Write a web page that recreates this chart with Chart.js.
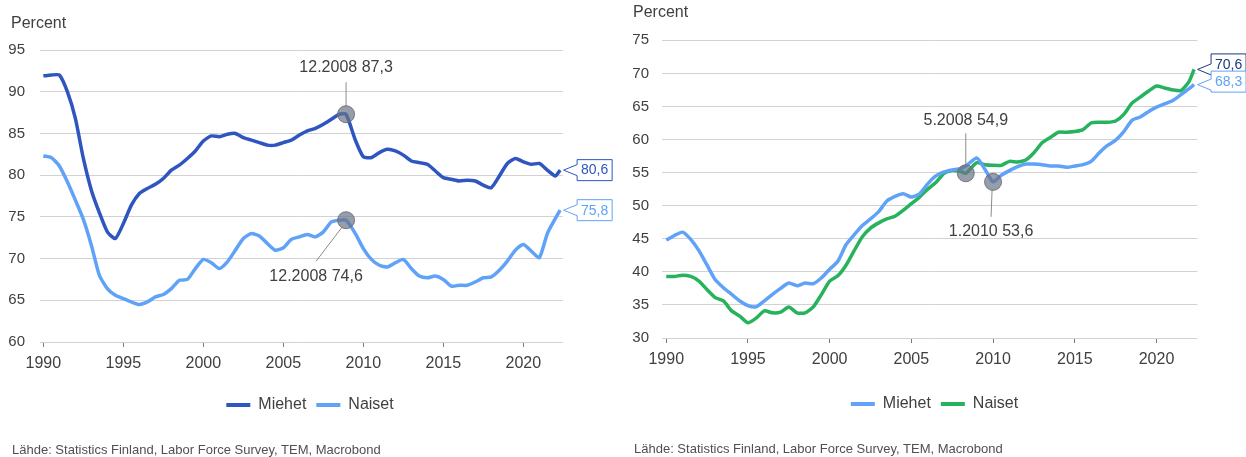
<!DOCTYPE html>
<html lang="fi">
<head>
    <meta charset="UTF-8">
    <title>Työllisyysaste: Miehet ja Naiset</title>
    <script src="https://cdn.jsdelivr.net/npm/chart.js"></script>
    <style>
        body { margin: 0; background: #fff; }
        .wrap { position: relative; width: 1246px; height: 457px; overflow: hidden;
                font-family: "Liberation Sans", Arial, sans-serif; color: #404040; }
        canvas { position: absolute; top: 0; }
        .unit { position: absolute; font-size: 16px; line-height: 16px; }
        .source { position: absolute; font-size: 13px; line-height: 13px; color: #505050; }
    </style>
</head>
<body>
<div class="wrap">
    <canvas id="vasen" width="620" height="457" style="left:0"></canvas>
    <canvas id="oikea" width="623" height="457" style="left:623px"></canvas>
    <div class="unit" style="left:11px; top:15px">Percent</div>
    <div class="unit" style="left:633px; top:4px">Percent</div>
    <div class="source" style="left:12px; top:443px">Lähde: Statistics Finland, Labor Force Survey, TEM, Macrobond</div>
    <div class="source" style="left:634px; top:442px">Lähde: Statistics Finland, Labor Force Survey, TEM, Macrobond</div>
</div>

<script>
    // Vasen kuvio
    const leftYears = [1990, 1990.5, 1991, 1991.5, 1992, 1992.5, 1993, 1993.5, 1994, 1994.5,
        1995, 1995.5, 1996, 1996.5, 1997, 1997.5, 1998, 1998.5, 1999, 1999.5,
        2000, 2000.5, 2001, 2001.5, 2002, 2002.5, 2003, 2003.5, 2004, 2004.5,
        2005, 2005.5, 2006, 2006.5, 2007, 2007.5, 2008, 2008.5, 2008.92,
        2009.5, 2010, 2010.5, 2011, 2011.5, 2012, 2012.5, 2013, 2013.5, 2014,
        2014.5, 2015, 2015.5, 2016, 2016.5, 2017, 2017.5, 2018, 2018.5, 2019,
        2019.5, 2020, 2020.5, 2021, 2021.5, 2022, 2022.3];
    const leftMiehet = [91.9, 92.0, 92.0, 90.0, 86.8, 82.0, 78.2, 75.5, 73.2, 72.4,
        74.2, 76.4, 77.8, 78.4, 78.9, 79.6, 80.6, 81.2, 82.0, 82.9,
        84.1, 84.7, 84.6, 84.9, 85.0, 84.5, 84.2, 83.9, 83.6, 83.6,
        83.9, 84.2, 84.8, 85.3, 85.6, 86.1, 86.7, 87.3, 87.3,
        84.2, 82.2, 82.1, 82.7, 83.1, 82.9, 82.4, 81.7, 81.5, 81.3,
        80.5, 79.7, 79.5, 79.3, 79.4, 79.3, 78.8, 78.5, 79.9, 81.4,
        82.0, 81.6, 81.3, 81.4, 80.6, 79.9, 80.6];
    const leftNaiset = [82.3, 82.1, 81.1, 79.2, 77.0, 74.7, 71.6, 68.0, 66.4, 65.6,
        65.2, 64.8, 64.5, 64.8, 65.4, 65.7, 66.4, 67.4, 67.5, 68.8,
        69.9, 69.5, 68.8, 69.6, 71.0, 72.4, 73.0, 72.7, 71.8, 71.0,
        71.3, 72.3, 72.6, 72.9, 72.6, 73.2, 74.4, 74.6, 74.6,
        73.0, 71.2, 69.9, 69.2, 69.0, 69.5, 69.9, 68.8, 67.9, 67.7,
        67.9, 67.5, 66.7, 66.8, 66.8, 67.2, 67.7, 67.8, 68.6, 69.7,
        71.0, 71.7, 70.9, 70.1, 73.0, 74.8, 75.8];
    const leftYTicks = [60, 65, 70, 75, 80, 85, 90, 95];
    const leftNoteDates = ['12.2008', '12.2008'];
    const leftNoteX = [2008.92, 2008.92];
    const leftNoteY = [87.3, 74.6];

    // Oikea kuvio
    const rightYears = [1990, 1990.5, 1991, 1991.5, 1992, 1992.5, 1993, 1993.5, 1994, 1994.5,
        1995, 1995.5, 1996, 1996.5, 1997, 1997.5, 1998, 1998.5, 1999, 1999.5,
        2000, 2000.5, 2001, 2001.5, 2002, 2002.5, 2003, 2003.5, 2004, 2004.5,
        2005, 2005.5, 2006, 2006.5, 2007, 2007.5, 2008, 2008.33,
        2009, 2009.5, 2010, 2010.5, 2011, 2011.5, 2012, 2012.5, 2013, 2013.5,
        2014, 2014.5, 2015, 2015.5, 2016, 2016.5, 2017, 2017.5, 2018, 2018.5,
        2019, 2019.5, 2020, 2020.5, 2021, 2021.5, 2022, 2022.3];
    const rightMiehet = [44.8, 45.5, 46.0, 44.9, 43.2, 41.0, 38.8, 37.6, 36.6, 35.6,
        34.9, 34.7, 35.6, 36.6, 37.5, 38.3, 37.9, 38.3, 38.2, 39.1,
        40.4, 41.6, 44.1, 45.6, 47.0, 48.0, 49.1, 50.7, 51.4, 51.8,
        51.3, 51.8, 53.3, 54.5, 55.1, 55.4, 55.6, 56.0,
        57.2, 55.5, 53.6, 54.6, 55.3, 55.9, 56.3, 56.3, 56.2, 56.0,
        56.0, 55.8, 56.0, 56.2, 56.7, 58.0, 59.1, 59.9, 61.2, 62.9,
        63.4, 64.2, 64.9, 65.4, 65.9, 66.8, 67.7, 68.3];
    const rightNaiset = [39.3, 39.3, 39.5, 39.3, 38.6, 37.3, 36.1, 35.6, 34.1, 33.3,
        32.3, 33.0, 34.1, 33.8, 33.9, 34.7, 33.8, 33.8, 34.7, 36.6,
        38.6, 39.4, 41.0, 43.2, 45.3, 46.6, 47.4, 48.0, 48.4, 49.3,
        50.3, 51.3, 52.5, 53.5, 54.9, 55.3, 55.2, 54.9,
        56.5, 56.2, 56.1, 56.1, 56.7, 56.6, 56.9, 58.0, 59.5, 60.3,
        61.1, 61.1, 61.2, 61.5, 62.5, 62.6, 62.6, 62.8, 63.8, 65.5,
        66.4, 67.3, 68.1, 67.8, 67.5, 67.4, 68.8, 70.6];
    const rightYTicks = [30, 35, 40, 45, 50, 55, 60, 65, 70, 75];
    const rightNoteDates = ['5.2008', '1.2010'];
    const rightNoteX = [2008.33, 2010];
    const rightNoteY = [54.9, 53.6];

    const xTicks = [1990, 1995, 2000, 2005, 2010, 2015, 2020];
    const seriesNames = ['Miehet', 'Naiset'];

    const FONT = '"Liberation Sans", Arial, sans-serif';
    const TEXT = '#404040';
    const fi = v => v.toFixed(1).replace('.', ',');

    // Merkinnät: harmaat pallot, selitetekstit ja viimeisen arvon laput
    const notesPlugin = {
        id: 'notes',
        afterLayout(chart) {
            // selite keskelle koko kuvaa, ei vain piirtoalueen kohdalle
            chart.legend.left = 0;
            chart.legend.right = chart.width;
        },
        afterDatasetsDraw(chart, args, opts) {
            const { ctx, scales: { x, y } } = chart;
            ctx.save();
            opts.notes.forEach(n => {
                const px = x.getPixelForValue(n.x);
                const py = y.getPixelForValue(n.y);
                ctx.strokeStyle = '#8c8c8c';
                ctx.lineWidth = 1;
                ctx.beginPath();
                ctx.moveTo(px + n.line[0], py + n.line[1]);
                ctx.lineTo(px + n.line[2], py + n.line[3]);
                ctx.stroke();
                ctx.beginPath();
                ctx.arc(px, py, 8.5, 0, Math.PI * 2);
                ctx.fillStyle = 'rgba(105, 115, 135, 0.7)';
                ctx.fill();
                ctx.strokeStyle = 'rgba(110, 110, 120, 0.9)';
                ctx.stroke();
                ctx.fillStyle = TEXT;
                ctx.font = '16px ' + FONT;
                ctx.textAlign = 'center';
                ctx.textBaseline = 'middle';
                ctx.fillText(n.text, px + n.dx, py + n.dy);
            });
            opts.tags.forEach(t => {
                const data = chart.data.datasets[t.dataset].data;
                const last = data[data.length - 1];
                const tipX = x.getPixelForValue(last.x) + 3.5;
                const tipY = y.getPixelForValue(last.y);
                const left = tipX + 13.5, w = 35, h = 21;
                const top = tipY + t.boxDy - h / 2;
                ctx.beginPath();
                ctx.moveTo(left, top);
                ctx.lineTo(left + w, top);
                ctx.lineTo(left + w, top + h);
                ctx.lineTo(left, top + h);
                ctx.lineTo(left, Math.min(tipY + 5.5, top + h));
                ctx.lineTo(tipX, tipY);
                ctx.lineTo(left, Math.max(tipY - 5.5, top));
                ctx.closePath();
                ctx.fillStyle = '#fff';
                ctx.fill();
                ctx.strokeStyle = t.color;
                ctx.lineWidth = 1;
                ctx.stroke();
                ctx.fillStyle = t.color;
                ctx.font = '14px ' + FONT;
                ctx.textAlign = 'center';
                ctx.textBaseline = 'middle';
                ctx.fillText(fi(last.y), left + w / 2, top + h / 2 + 0.5);
            });
            ctx.restore();
        }
    };

    function makeChart(id, cfg) {
        return new Chart(document.getElementById(id), {
            type: 'line',
            data: {
                datasets: cfg.series.map((s, i) => ({
                    label: seriesNames[i],
                    data: cfg.years.map((yr, k) => ({ x: yr, y: s[k] })),
                    borderColor: cfg.colors[i],
                    backgroundColor: cfg.colors[i],
                    borderWidth: 3.5,
                    pointRadius: 0,
                    tension: 0.2
                }))
            },
            options: {
                responsive: false,
                animation: false,
                devicePixelRatio: 1,
                events: [],
                layout: { padding: cfg.padding },
                scales: {
                    x: {
                        type: 'linear',
                        min: cfg.xMin,
                        max: cfg.xMax,
                        afterBuildTicks: s => { s.ticks = xTicks.map(v => ({ value: v })); },
                        afterFit: s => { s.height = cfg.xHeight; },
                        ticks: {
                            callback: v => String(v),
                            color: TEXT,
                            font: { family: FONT, size: 16 },
                            padding: 7,
                            maxRotation: 0,
                            autoSkip: false
                        },
                        grid: { drawOnChartArea: false, drawTicks: true, tickLength: 5, color: '#7a7a7a' },
                        border: { display: false }
                    },
                    y: {
                        min: cfg.yTicks[0],
                        max: cfg.yTicks[cfg.yTicks.length - 1],
                        afterBuildTicks: s => { s.ticks = cfg.yTicks.map(v => ({ value: v })); },
                        afterFit: s => { s.width = cfg.yWidth; },
                        ticks: {
                            color: TEXT,
                            font: { family: FONT, size: 15 },
                            padding: cfg.yPad
                        },
                        grid: { color: '#d2d2d2', drawTicks: false },
                        border: { display: false }
                    }
                },
                plugins: {
                    legend: {
                        position: 'bottom',
                        labels: {
                            boxWidth: 24,
                            boxHeight: 4,
                            padding: 10,
                            color: TEXT,
                            font: { family: FONT, size: 16 },
                            generateLabels: chart =>
                                Chart.defaults.plugins.legend.labels.generateLabels(chart)
                                    .map(l => Object.assign(l, { lineWidth: 0, fillStyle: l.strokeStyle }))
                        }
                    },
                    tooltip: { enabled: false },
                    notes: { notes: cfg.notes, tags: cfg.tags }
                }
            },
            plugins: [notesPlugin]
        });
    }

    const DARK = '#2e55c0';
    const LIGHT = '#5fa2f7';
    const GREEN = '#27b35e';
    const NAVY = '#1d3a7c';

    const leftOffsets = [
        { dx: 0, dy: -47, line: [0, -8, 0, -32] },
        { dx: -30, dy: 56, line: [-4, 7, -30, 41] }
    ];
    const rightOffsets = [
        { dx: 0, dy: -53, line: [0, -8, 0, -40] },
        { dx: -2, dy: 50, line: [-1, 8, -2, 35] }
    ];

    makeChart('vasen', {
        years: leftYears,
        series: [leftMiehet, leftNaiset],
        colors: [DARK, LIGHT],
        yTicks: leftYTicks,
        xMin: 1989.79, xMax: 2022.46,
        yWidth: 40, yPad: 15, xHeight: 45,
        padding: { top: 50, left: 0, right: 57.3, bottom: 34 },
        notes: leftNoteX.map((x, i) => Object.assign({
            x: x, y: leftNoteY[i], text: leftNoteDates[i] + ' ' + fi(leftNoteY[i])
        }, leftOffsets[i])),
        tags: [{ dataset: 0, color: DARK, boxDy: 0 }, { dataset: 1, color: LIGHT, boxDy: 0 }]
    });

    makeChart('oikea', {
        years: rightYears,
        series: [rightMiehet, rightNaiset],
        colors: [LIGHT, GREEN],
        yTicks: rightYTicks,
        xMin: 1989.74, xMax: 2022.51,
        yWidth: 39, yPad: 13, xHeight: 48,
        padding: { top: 40.3, left: 0, right: 48.5, bottom: 35 },
        notes: rightNoteX.map((x, i) => Object.assign({
            x: x, y: rightNoteY[i], text: rightNoteDates[i] + ' ' + fi(rightNoteY[i])
        }, rightOffsets[i])),
        tags: [{ dataset: 1, color: NAVY, boxDy: -5 }, { dataset: 0, color: LIGHT, boxDy: -3 }]
    });
</script>
</body>
</html>
